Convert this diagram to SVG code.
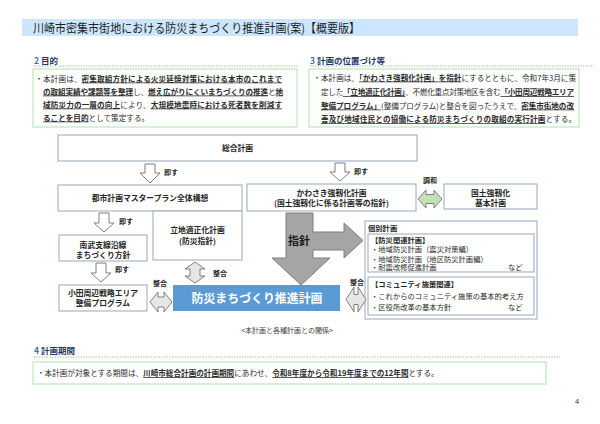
<svg xmlns="http://www.w3.org/2000/svg" width="600" height="424" viewBox="0 0 600 424">
<defs>
<style>
text{font-family:"Noto Sans CJK JP","Noto Sans",sans-serif;fill:#2b2b2b}
.t{font-size:7.6px}
.u{font-weight:bold;text-decoration:underline}
.h{font-size:8.5px;font-weight:bold;fill:#1f3864}
.hn{fill:#2e75b6}
.sec{fill:#fff;stroke:#cdeecd;stroke-width:1.6}
.dot{stroke:#a6a6a6;stroke-width:1;stroke-dasharray:1.2 1.4}
.box{fill:#fff;stroke:#97a9bd;stroke-width:1}
.lb{font-size:7.8px;font-weight:bold;text-anchor:middle;fill:#262626}
.sm{font-size:7px;font-weight:bold;fill:#262626}
.ar{fill:#fff;stroke:#7f7f7f;stroke-width:1;stroke-linejoin:miter}
.ag{fill:#e7e6e6;stroke:#7f7f7f;stroke-width:1}
.ak{font-size:7.3px;fill:#262626}
</style>
</defs>
<rect width="600" height="424" fill="#fff"/>

<!-- title -->
<g id="title">
<rect x="22" y="19" width="556" height="17" fill="#cce6ff"/>
<text x="33" y="32.5" style="font-size:12.2px;fill:#1e1e1e" textLength="327" lengthAdjust="spacingAndGlyphs">川崎市密集市街地における防災まちづくり推進計画(案)【概要版】</text>
</g>

<!-- section 2 -->
<g id="sec2">
<text x="34" y="63.5" class="h"><tspan class="hn">2</tspan> 目的</text>
<line x1="34" y1="66" x2="298" y2="66" class="dot"/>
<rect x="33" y="69" width="264" height="58" class="sec"/>
<text x="35.2" y="81.5" class="t">・</text>
<text x="43" y="81.5" class="t" textLength="239" lengthAdjust="spacing">本計画は、<tspan class="u">密集取組方針による火災延焼対策における本市のこれまで</tspan></text>
<text x="43" y="94.5" class="t" textLength="240" lengthAdjust="spacing"><tspan class="u">の取組実績や課題等を整理</tspan>し、<tspan class="u">燃え広がりにくいまちづくりの推進</tspan>と<tspan class="u">地</tspan></text>
<text x="43" y="107.5" class="t" textLength="239" lengthAdjust="spacing"><tspan class="u">域防災力の一層の向上</tspan>により、<tspan class="u">大規模地震時における死者数を削減す</tspan></text>
<text x="43" y="120.5" class="t"><tspan class="u">ることを目的</tspan>として策定する。</text>
</g>

<!-- section 3 -->
<g id="sec3">
<text x="310" y="63.5" class="h"><tspan class="hn">3</tspan> 計画の位置づけ等</text>
<line x1="310" y1="66" x2="594" y2="66" class="dot"/>
<rect x="309" y="69" width="270" height="58" class="sec"/>
<text x="313.2" y="80.5" class="t">・</text>
<text x="321" y="80.5" class="t" textLength="255" lengthAdjust="spacing">本計画は、<tspan class="u">「かわさき強靱化計画」を指針</tspan>にするとともに、令和7年3月に策</text>
<text x="321" y="95" class="t" textLength="253" lengthAdjust="spacing">定した<tspan class="u">「立地適正化計画」</tspan>、不燃化重点対策地区を含む<tspan class="u">「小田周辺戦略エリア</tspan></text>
<text x="321" y="108.5" class="t" textLength="253" lengthAdjust="spacing"><tspan class="u">整備プログラム」</tspan>(整備プログラム)と整合を図ったうえで、<tspan class="u">密集市街地の改</tspan></text>
<text x="321" y="122" class="t" textLength="255" lengthAdjust="spacing"><tspan class="u">善及び地域住民との協働による防災まちづくりの取組の実行計画</tspan>とする。</text>
</g>

<!-- diagram nodes -->
<g id="n-sogo">
<rect x="58" y="135" width="359" height="26" class="box"/>
<text x="237.5" y="151" class="lb">総合計画</text>
</g>
<g id="n-toshi">
<rect x="58" y="185" width="184" height="26" class="box"/>
<text x="150" y="201" class="lb">都市計画マスタープラン全体構想</text>
</g>
<g id="n-ritchi">
<rect x="153" y="211" width="89" height="49" class="box"/>
<text x="197.5" y="233" class="lb">立地適正化計画</text>
<text x="197.5" y="243.5" class="lb">(防災指針)</text>
</g>
<g id="n-nambu">
<rect x="59" y="235" width="88" height="26" class="box"/>
<text x="103" y="248" class="lb">南武支線沿線</text>
<text x="103" y="257.5" class="lb">まちづくり方針</text>
</g>
<g id="n-oda">
<rect x="59" y="285" width="88" height="26" class="box"/>
<text x="103" y="296" class="lb">小田周辺戦略エリア</text>
<text x="103" y="306" class="lb">整備プログラム</text>
</g>
<g id="n-kawasaki">
<rect x="247" y="184" width="169" height="27" class="box"/>
<text x="331.5" y="196" class="lb">かわさき強靱化計画</text>
<text x="331.5" y="206" class="lb">(国土強靱化に係る計画等の指針)</text>
</g>
<g id="n-kokudo">
<rect x="444" y="184" width="93" height="25" class="box"/>
<text x="490.5" y="195.5" class="lb">国土強靱化</text>
<text x="490.5" y="205.5" class="lb">基本計画</text>
</g>
<g id="n-main">
<rect x="173" y="285" width="167" height="26" fill="#5b9bd5"/>
<text x="257" y="302.5" style="font-size:12px;font-weight:bold;fill:#fff;text-anchor:middle" textLength="131" lengthAdjust="spacingAndGlyphs">防災まちづくり推進計画</text>
</g>
<g id="n-kobetsu">
<rect x="365" y="221" width="172" height="98" class="box"/>
<text x="368" y="231" class="ak" style="font-weight:bold">個別計画</text>
<rect x="368" y="234" width="166" height="38" class="box"/>
<text x="371" y="243" class="ak" style="font-weight:bold">【防災関連計画】</text>
<text x="371" y="252" class="ak">・地域防災計画（震災対策編）</text>
<text x="371" y="261.5" class="ak">・地域防災計画（地区防災計画編）</text>
<text x="371" y="270.3" class="ak">・耐震改修促進計画</text>
<text x="508" y="270.3" class="ak">など</text>
<rect x="368" y="277" width="166" height="38" class="box"/>
<text x="371" y="287" class="ak" style="font-weight:bold">【コミュニティ施策関連】</text>
<text x="371" y="298.8" class="ak">・これからのコミュニティ施策の基本的考え方</text>
<text x="371" y="310" class="ak">・区役所改革の基本方針</text>
<text x="508" y="310" class="ak">など</text>
</g>

<!-- connectors -->
<g id="connectors">
<path class="ar" d="M145,164 H155 V173 H160 L150,183 L140,173 H145 Z"/>
<text x="164" y="175" class="sm">即す</text>
<path class="ar" d="M99,213 H109 V223 H114 L104,232 L94,223 H99 Z"/>
<text x="119" y="224" class="sm">即す</text>
<path class="ar" d="M96,263 H106 V273 H111 L101,282 L91,273 H96 Z"/>
<text x="115" y="272" class="sm">即す</text>
<path class="ar" d="M335,163 H345 V172 H350 L340,181 L330,172 H335 Z"/>
<text x="354" y="174" class="sm">即す</text>
<path class="ag" d="M195,262 L205,269 H200 V276 H205 L195,283 L185,276 H190 V269 H185 Z"/>
<text x="213" y="276" class="sm">整合</text>
<path class="ag" d="M150,302 L158,292 V297 H164 V292 L172,302 L164,312 V307 H158 V312 Z"/>
<text x="153" y="286" class="sm">整合</text>
<path class="ag" d="M346,299.5 L354,287 V294.5 H358 V287 L366,299.5 L358,312 V304.5 H354 V312 Z"/>
<text x="350" y="285" class="sm">整合</text>
<path d="M418,199 L426,190 V194.5 H434 V190 L442,199 L434,208 V203.5 H426 V208 Z" fill="#c5e0b4" stroke="#7f7f7f" stroke-width="1"/>
<text x="423" y="183" class="sm">調和</text>
<path d="M286,213 H313 V232 H344 V223 L363,240.5 L344,258 V250 H313 V258 H330 L301,285 L272,258 H286 Z" fill="#a5a5a5" stroke="#7f7f7f" stroke-width="1"/>
<text x="299" y="244.5" style="font-size:11px;font-weight:bold;fill:#1a1a1a;text-anchor:middle">指針</text>
</g>

<text x="287" y="332.5" style="font-size:7px;fill:#404040;text-anchor:middle">&lt;本計画と各種計画との関係&gt;</text>

<!-- section 4 -->
<g id="sec4">
<text x="34" y="354" class="h"><tspan class="hn">4</tspan> 計画期間</text>
<line x1="34" y1="357" x2="560" y2="357" class="dot"/>
<rect x="33" y="362" width="513" height="22" class="sec"/>
<text x="37" y="376" class="t">・本計画が対象とする期間は、<tspan class="u">川崎市総合計画の計画期間</tspan>にあわせ、<tspan class="u">令和8年度から令和19年度までの12年間</tspan>とする。</text>
</g>

<text x="575" y="404" style="font-family:'Liberation Sans',sans-serif;font-size:7.5px;fill:#333">4</text>
</svg>
